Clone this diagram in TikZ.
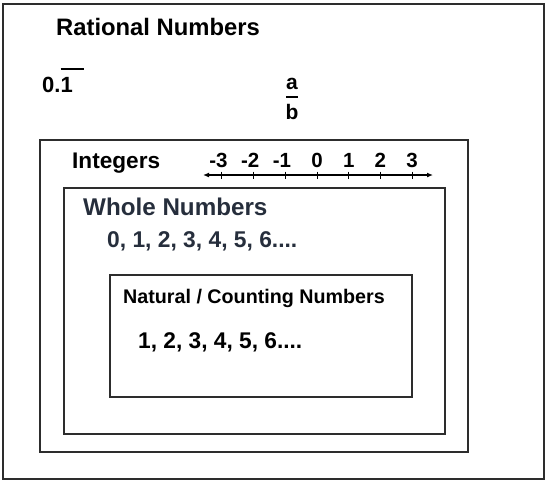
\documentclass[tikz,border=0pt]{standalone}
\usepackage{fontspec}
\setmainfont{Liberation Sans}
\usetikzlibrary{arrows.meta}
\definecolor{boxline}{RGB}{45,45,45}
\definecolor{wholeblue}{RGB}{38,46,60}
\tikzset{
  setbox/.style={draw=boxline, line width=1.6pt},
  lbl/.style={anchor=base west, inner sep=0pt, font=\bfseries\fontsize{#1}{#1}\selectfont},
  tick lbl/.style={anchor=base, inner sep=0pt, font=\bfseries\fontsize{20.5}{21}\selectfont}
}
\begin{document}
\begin{tikzpicture}[x=1pt,y=-1pt]
\useasboundingbox[fill=white] (0,0) rectangle (546,483);
% the nested sets
\draw[setbox] (3,4) rectangle (544,479);
\draw[setbox] (40,140) rectangle (468,452);
\draw[setbox] (64,188) rectangle (445,434);
\draw[setbox] (110,275) rectangle (412,397);
% rational numbers
\node[lbl=23.8] (rational) at (56,35) {Rational Numbers};
\node[lbl=22] (repeat) at (42,92) {0.\rlap{\rule[22pt]{23pt}{1.6pt}}1};
\node[lbl=21, anchor=base] (fa) at (292,89) {a};
\node[lbl=21, anchor=base] (fb) at (292,119) {b};
\draw[line width=2.4pt] (286,97) -- (298,97);
% integers and the number line
\node[lbl=22.6] (integers) at (72,168) {Integers};
\draw[line width=1.4pt, {Latex[length=6pt,width=5pt]}-{Latex[length=6pt,width=5pt]}] (203,175) -- (433,175);
\foreach \i in {-3,...,3} {
  \pgfmathsetmacro\xx{317+31.7*\i}
  \pgfmathtruncatemacro\aa{abs(\i)}
  \draw[line width=1pt] (\xx,171.5) -- (\xx,178.5);
  \node[tick lbl] (t\aa\ifnum\i<0 m\fi) at (\xx,167) {\ifnum\i<0\llap{-}\fi\aa};
}
% whole numbers
\node[lbl=24.2, text=wholeblue] (whole) at (83,215) {Whole Numbers};
\node[lbl=22.8, text=wholeblue] (wholelist) at (107,247) {0, 1, 2, 3, 4, 5, 6....};
% natural numbers
\node[lbl=19.7] (natural) at (123,303) {Natural / Counting Numbers};
\node[lbl=22.7] (naturallist) at (138,348) {1, 2, 3, 4, 5, 6....};
\end{tikzpicture}
\end{document}
